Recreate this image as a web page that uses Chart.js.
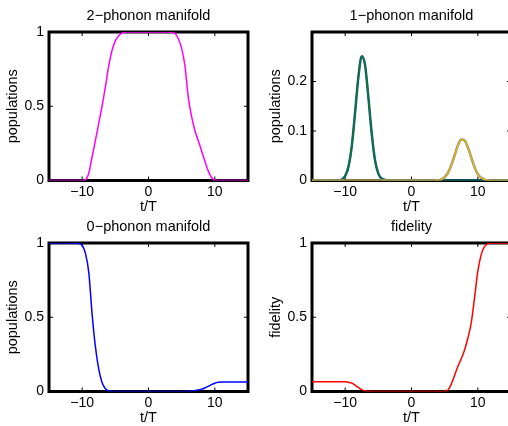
<!DOCTYPE html>
<html>
<head>
<meta charset="utf-8">
<script src="https://cdn.jsdelivr.net/npm/chart.js@4.4.1/dist/chart.umd.min.js"></script>
<style>
  html, body { margin: 0; padding: 0; background: #ffffff; overflow: hidden; }
  body { width: 508px; height: 426px; position: relative; }
  .panel { position: absolute; width: 254px; height: 216px; }
</style>
</head>
<body>
<div class="panel" style="left:0px;top:0px;"><canvas id="c1"></canvas></div>
<div class="panel" style="left:263px;top:0px;"><canvas id="c2"></canvas></div>
<div class="panel" style="left:0px;top:211px;"><canvas id="c3"></canvas></div>
<div class="panel" style="left:263px;top:211px;"><canvas id="c4"></canvas></div>
<script>
// ---- data (t/T from -15 to 15, step 0.5) ----
const tValues = [-15,-14.5,-14,-13.5,-13,-12.5,-12,-11.5,-11,-10.5,-10,-9.5,-9,-8.5,-8,-7.5,-7,-6.5,-6,-5.5,-5,-4.5,-4,-3.5,-3,-2.5,-2,-1.5,-1,-0.5,0,0.5,1,1.5,2,2.5,3,3.5,4,4.5,5,5.5,6,6.5,7,7.5,8,8.5,9,9.5,10,10.5,11,11.5,12,12.5,13,13.5,14,14.5,15];

const twoPhonon = [0,0,0,0,0,0,0,0,0,0,0,
  0.005,0.05,0.16,0.27,0.385,0.5,0.63,0.77,0.875,0.94,0.975,0.993,1,
  1,1,1,1,1,1,1,1,1,1,1,1,1,
  0.998,0.99,0.955,0.89,0.77,0.56,0.43,0.335,0.27,0.2,0.13,0.065,0.02,0.002,
  0,0,0,0,0,0,0,0,0,0];

const onePhononEarly = [0,0,0,0,0,0,0,0,
  0.0004,0.002,0.009,0.028,0.07,0.138,0.21,0.251,0.233,0.168,0.095,0.041,0.014,0.004,0.001,
  0,0,0,0,0,0,0,0,0,0,0,0,0,0,0,0,0,0,0,0,0,0,0,0,0,0,0,0,0,0,0,0,0,0,0,0,0,0];

const onePhononLate = [0,0,0,0,0,0,0,0,0,0,0,0,0,0,0,0,0,0,0,0,0,0,0,0,0,0,0,0,0,0,0,0,0,0,0,0,0,
  0.0002,0.0007,0.0024,0.0067,0.016,0.031,0.051,0.071,0.083,0.081,0.067,0.047,0.027,0.013,0.0055,0.0019,0.0006,
  0,0,0,0,0,0,0];

const zeroPhonon = [1,1,1,1,1,1,1,1,1,
  0.997,0.985,0.93,0.8,0.52,0.3,0.15,0.06,0.018,0.003,
  0,0,0,0,0,0,0,0,0,0,0,0,0,0,0,0,0,0,0,0,0,0,0,
  0.001,0.003,0.006,0.01,0.016,0.024,0.034,0.046,0.056,0.062,
  0.064,0.064,0.064,0.064,0.064,0.064,0.064,0.064,0.064];

const fidelity = [0.065,0.065,0.065,0.065,0.065,0.065,0.065,0.065,0.065,0.065,0.065,
  0.063,0.056,0.042,0.027,0.013,0.004,0.001,
  0,0,0,0,0,0,0,0,0,0,0,0,0,0,0,0,0,0,0,0,0,0,0,
  0.01,0.05,0.11,0.17,0.22,0.28,0.36,0.46,0.63,0.81,0.92,0.975,0.995,
  1,1,1,1,1,1,1];

const xTicks = [-10, 0, 10];
const yTicksUnit = [0, 0.5, 1];
const yTicksOne = [0, 0.1, 0.2];

const panelTitles = ['2\u2212phonon manifold', '1\u2212phonon manifold', '0\u2212phonon manifold', 'fidelity'];
const yTitles = ['populations', 'populations', 'populations', 'fidelity'];

// ---- helpers ----
const FONT = 'Liberation Sans, Arial, Helvetica, sans-serif';
const fmt = v => (v < 0 ? '\u2212' + Math.abs(v) : String(v));

const framePlugin = {
  id: 'frame',
  beforeDatasetsDraw(chart) {
    const {ctx, chartArea: a, scales} = chart;
    ctx.save();
    ctx.strokeStyle = '#000';
    ctx.lineWidth = 3;
    ctx.strokeRect(a.left, a.top, a.right - a.left, a.bottom - a.top);
    ctx.lineWidth = 1;
    ctx.beginPath();
    scales.x.ticks.forEach(t => {
      const px = scales.x.getPixelForValue(t.value);
      ctx.moveTo(px, a.top); ctx.lineTo(px, a.top + 4);
      ctx.moveTo(px, a.bottom); ctx.lineTo(px, a.bottom - 4);
    });
    scales.y.ticks.forEach(t => {
      const py = scales.y.getPixelForValue(t.value);
      ctx.moveTo(a.left, py); ctx.lineTo(a.left + 4, py);
      ctx.moveTo(a.right, py); ctx.lineTo(a.right - 4, py);
    });
    ctx.stroke();
    ctx.restore();
  }
};

function ds(values, color, width) {
  return {
    data: tValues.map((x, i) => ({x: x, y: values[i]})),
    borderColor: color,
    borderWidth: width,
    pointRadius: 0,
    fill: false,
    cubicInterpolationMode: 'monotone'
  };
}

function makeChart(id, idx, datasets, yMax, yTicks) {
  return new Chart(document.getElementById(id), {
    type: 'line',
    data: {datasets: datasets},
    plugins: [framePlugin],
    options: {
      responsive: true,
      maintainAspectRatio: false,
      animation: false,
      events: [],
      layout: {padding: {left: 0, right: 6, top: 0, bottom: 0}},
      plugins: {
        legend: {display: false},
        tooltip: {enabled: false},
        title: {
          display: true,
          fullSize: false,
          text: panelTitles[idx],
          color: '#000',
          font: {family: FONT, size: 14.5, weight: 'normal', lineHeight: 1.2},
          padding: {top: 7, bottom: 7.6}
        }
      },
      scales: {
        x: {
          type: 'linear',
          min: -15, max: 15,
          afterBuildTicks: s => { s.ticks = xTicks.map(v => ({value: v})); },
          afterFit: s => { s.height = 35.5; },
          grid: {display: false, drawTicks: false},
          border: {display: false},
          ticks: {
            color: '#000',
            padding: 3,
            maxRotation: 0,
            font: {family: FONT, size: 14},
            callback: v => fmt(v)
          },
          title: {
            display: true, text: 't/T', color: '#000',
            font: {family: FONT, size: 14.5, lineHeight: 1.2},
            padding: {top: 0, bottom: 0}
          }
        },
        y: {
          min: 0, max: yMax,
          afterBuildTicks: s => { s.ticks = yTicks.map(v => ({value: v})); },
          afterFit: s => { s.width = 49; },
          grid: {display: false, drawTicks: false},
          border: {display: false},
          ticks: {
            color: '#000',
            padding: 5,
            font: {family: FONT, size: 14},
            callback: v => fmt(v)
          },
          title: {
            display: true, text: yTitles[idx], color: '#000',
            font: {family: FONT, size: 14.5, lineHeight: 1.2},
            padding: {top: 4.5, bottom: 0}
          }
        }
      }
    }
  });
}

makeChart('c1', 0, [ds(twoPhonon, '#ff00ff', 1.5)], 1, yTicksUnit);
makeChart('c2', 1, [
  ds(onePhononLate, '#d9b41a', 1.5),
  ds(onePhononLate, '#8a8a8a', 2.5),
  ds(onePhononEarly, '#0a7a1e', 1.5),
  ds(onePhononEarly, '#2050b0', 2.5)
], 0.3, yTicksOne);
makeChart('c3', 2, [ds(zeroPhonon, '#0000ff', 1.5)], 1, yTicksUnit);
makeChart('c4', 3, [ds(fidelity, '#ff0000', 1.5)], 1, yTicksUnit);
</script>
</body>
</html>
